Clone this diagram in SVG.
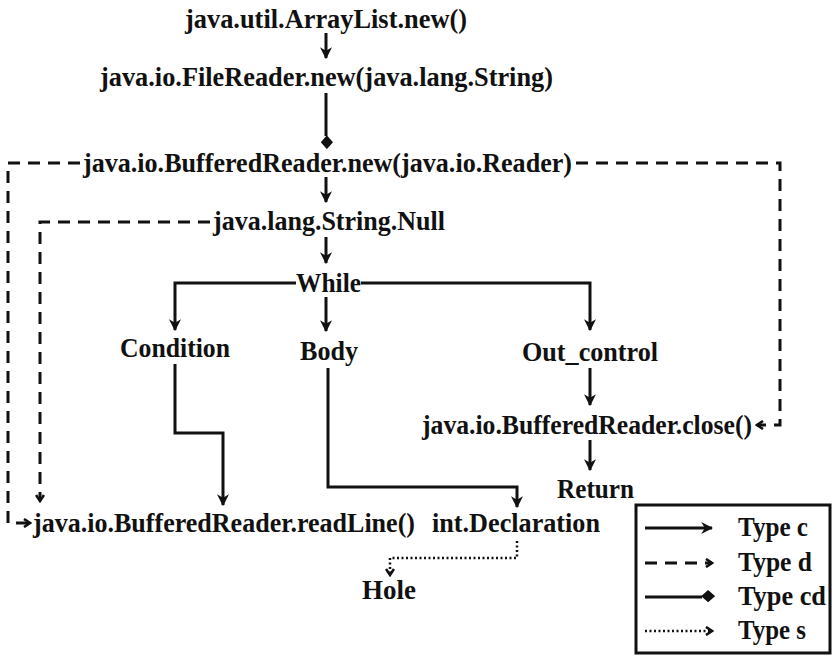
<svg xmlns="http://www.w3.org/2000/svg" width="836" height="659" viewBox="0 0 836 659">
  <style>
    text { font-family: "Liberation Serif", "Times New Roman", serif; font-weight: bold; font-size: 28px; fill: #111; }
    .c { fill: none; stroke: #111; stroke-width: 3; }
    .d { fill: none; stroke: #111; stroke-width: 3; stroke-dasharray: 12 8; }
    .s { fill: none; stroke: #111; stroke-width: 2.5; stroke-dasharray: 2 2.5; }
  </style>
  <defs>
    <marker id="arrow" markerWidth="12" markerHeight="12" refX="9" refY="5" orient="auto" markerUnits="userSpaceOnUse" viewBox="0 0 10 10">
      <path d="M0,0 L10,5 L0,10 L3,5 z" fill="#111"/>
    </marker>
    <marker id="chevron" markerWidth="10" markerHeight="10" refX="8" refY="5" orient="auto" markerUnits="userSpaceOnUse" viewBox="0 0 10 10">
      <path d="M2,1 L8,5 L2,9" fill="none" stroke="#111" stroke-width="2.6"/>
    </marker>
    <marker id="diamond" markerWidth="14" markerHeight="16" refX="1" refY="8" orient="auto" markerUnits="userSpaceOnUse" viewBox="0 0 16 14">
      <path d="M0,7 L8,0 L16,7 L8,14 z" fill="#111"/>
    </marker>
  </defs>

  <!-- connectors -->
  <g id="connectors">
    <path class="c" d="M326,33 V58" marker-end="url(#arrow)"/>
    <path class="c" d="M326,93 V136" marker-end="url(#diamond)"/>
    <path class="c" d="M326,177 V202" marker-end="url(#arrow)"/>
    <path class="c" d="M326,237 V263" marker-end="url(#arrow)"/>
    <path class="c" d="M296,283 H175 V330" marker-end="url(#arrow)"/>
    <path class="c" d="M361,283 H590 V330" marker-end="url(#arrow)"/>
    <path class="c" d="M326,297 V331" marker-end="url(#arrow)"/>
    <path class="c" d="M175,364 V433 H223 V505" marker-end="url(#arrow)"/>
    <path class="c" d="M328,368 V487 H517 V507" marker-end="url(#arrow)"/>
    <path class="c" d="M590,368 V405" marker-end="url(#arrow)"/>
    <path class="c" d="M590,440 V470" marker-end="url(#arrow)"/>
    <path class="d" d="M80,163 H8 V523 H30" marker-end="url(#chevron)"/>
    <path class="d" d="M576,163 H780 V425 H757" marker-end="url(#chevron)"/>
    <path class="d" d="M210,222 H40 V501" marker-end="url(#chevron)"/>
    <path class="s" d="M517,541 V558 H390 V575" marker-end="url(#chevron)"/>
  </g>

  <!-- nodes -->
  <g id="n-arraylist"><text x="185" y="28" textLength="282" lengthAdjust="spacingAndGlyphs">java.util.ArrayList.new()</text></g>
  <g id="n-filereader"><text x="100" y="86" textLength="453" lengthAdjust="spacingAndGlyphs">java.io.FileReader.new(java.lang.String)</text></g>
  <g id="n-bufferedreader-new"><text x="83" y="172" textLength="489" lengthAdjust="spacingAndGlyphs">java.io.BufferedReader.new(java.io.Reader)</text></g>
  <g id="n-string-null"><text x="213" y="230" textLength="232" lengthAdjust="spacingAndGlyphs">java.lang.String.Null</text></g>
  <g id="n-while"><text x="296" y="292" textLength="65" lengthAdjust="spacingAndGlyphs">While</text></g>
  <g id="n-condition"><text x="120" y="357" textLength="110" lengthAdjust="spacingAndGlyphs">Condition</text></g>
  <g id="n-body"><text x="300" y="360" textLength="58" lengthAdjust="spacingAndGlyphs">Body</text></g>
  <g id="n-out-control"><text x="522" y="361" textLength="136" lengthAdjust="spacingAndGlyphs">Out_control</text></g>
  <g id="n-close"><text x="422" y="434" textLength="330" lengthAdjust="spacingAndGlyphs">java.io.BufferedReader.close()</text></g>
  <g id="n-return"><text x="557" y="498" textLength="77" lengthAdjust="spacingAndGlyphs">Return</text></g>
  <g id="n-readline"><text x="33" y="532" textLength="382" lengthAdjust="spacingAndGlyphs">java.io.BufferedReader.readLine()</text></g>
  <g id="n-int-declaration"><text x="432" y="532" textLength="168" lengthAdjust="spacingAndGlyphs">int.Declaration</text></g>
  <g id="n-hole"><text x="362" y="599" textLength="54" lengthAdjust="spacingAndGlyphs">Hole</text></g>

  <!-- legend -->
  <g id="legend">
    <rect x="636" y="505" width="194" height="148" fill="#fff" stroke="#111" stroke-width="3"/>
    <path class="c" d="M645,528 H712" marker-end="url(#arrow)"/>
    <path class="d" d="M645,563 H712" marker-end="url(#chevron)"/>
    <path class="c" d="M645,597 H702" marker-end="url(#diamond)"/>
    <path class="s" d="M645,631 H712" marker-end="url(#chevron)"/>
    <text x="738" y="536" textLength="70" lengthAdjust="spacingAndGlyphs">Type c</text>
    <text x="738" y="571" textLength="74" lengthAdjust="spacingAndGlyphs">Type d</text>
    <text x="738" y="605" textLength="88" lengthAdjust="spacingAndGlyphs">Type cd</text>
    <text x="738" y="639" textLength="68" lengthAdjust="spacingAndGlyphs">Type s</text>
  </g>
</svg>
